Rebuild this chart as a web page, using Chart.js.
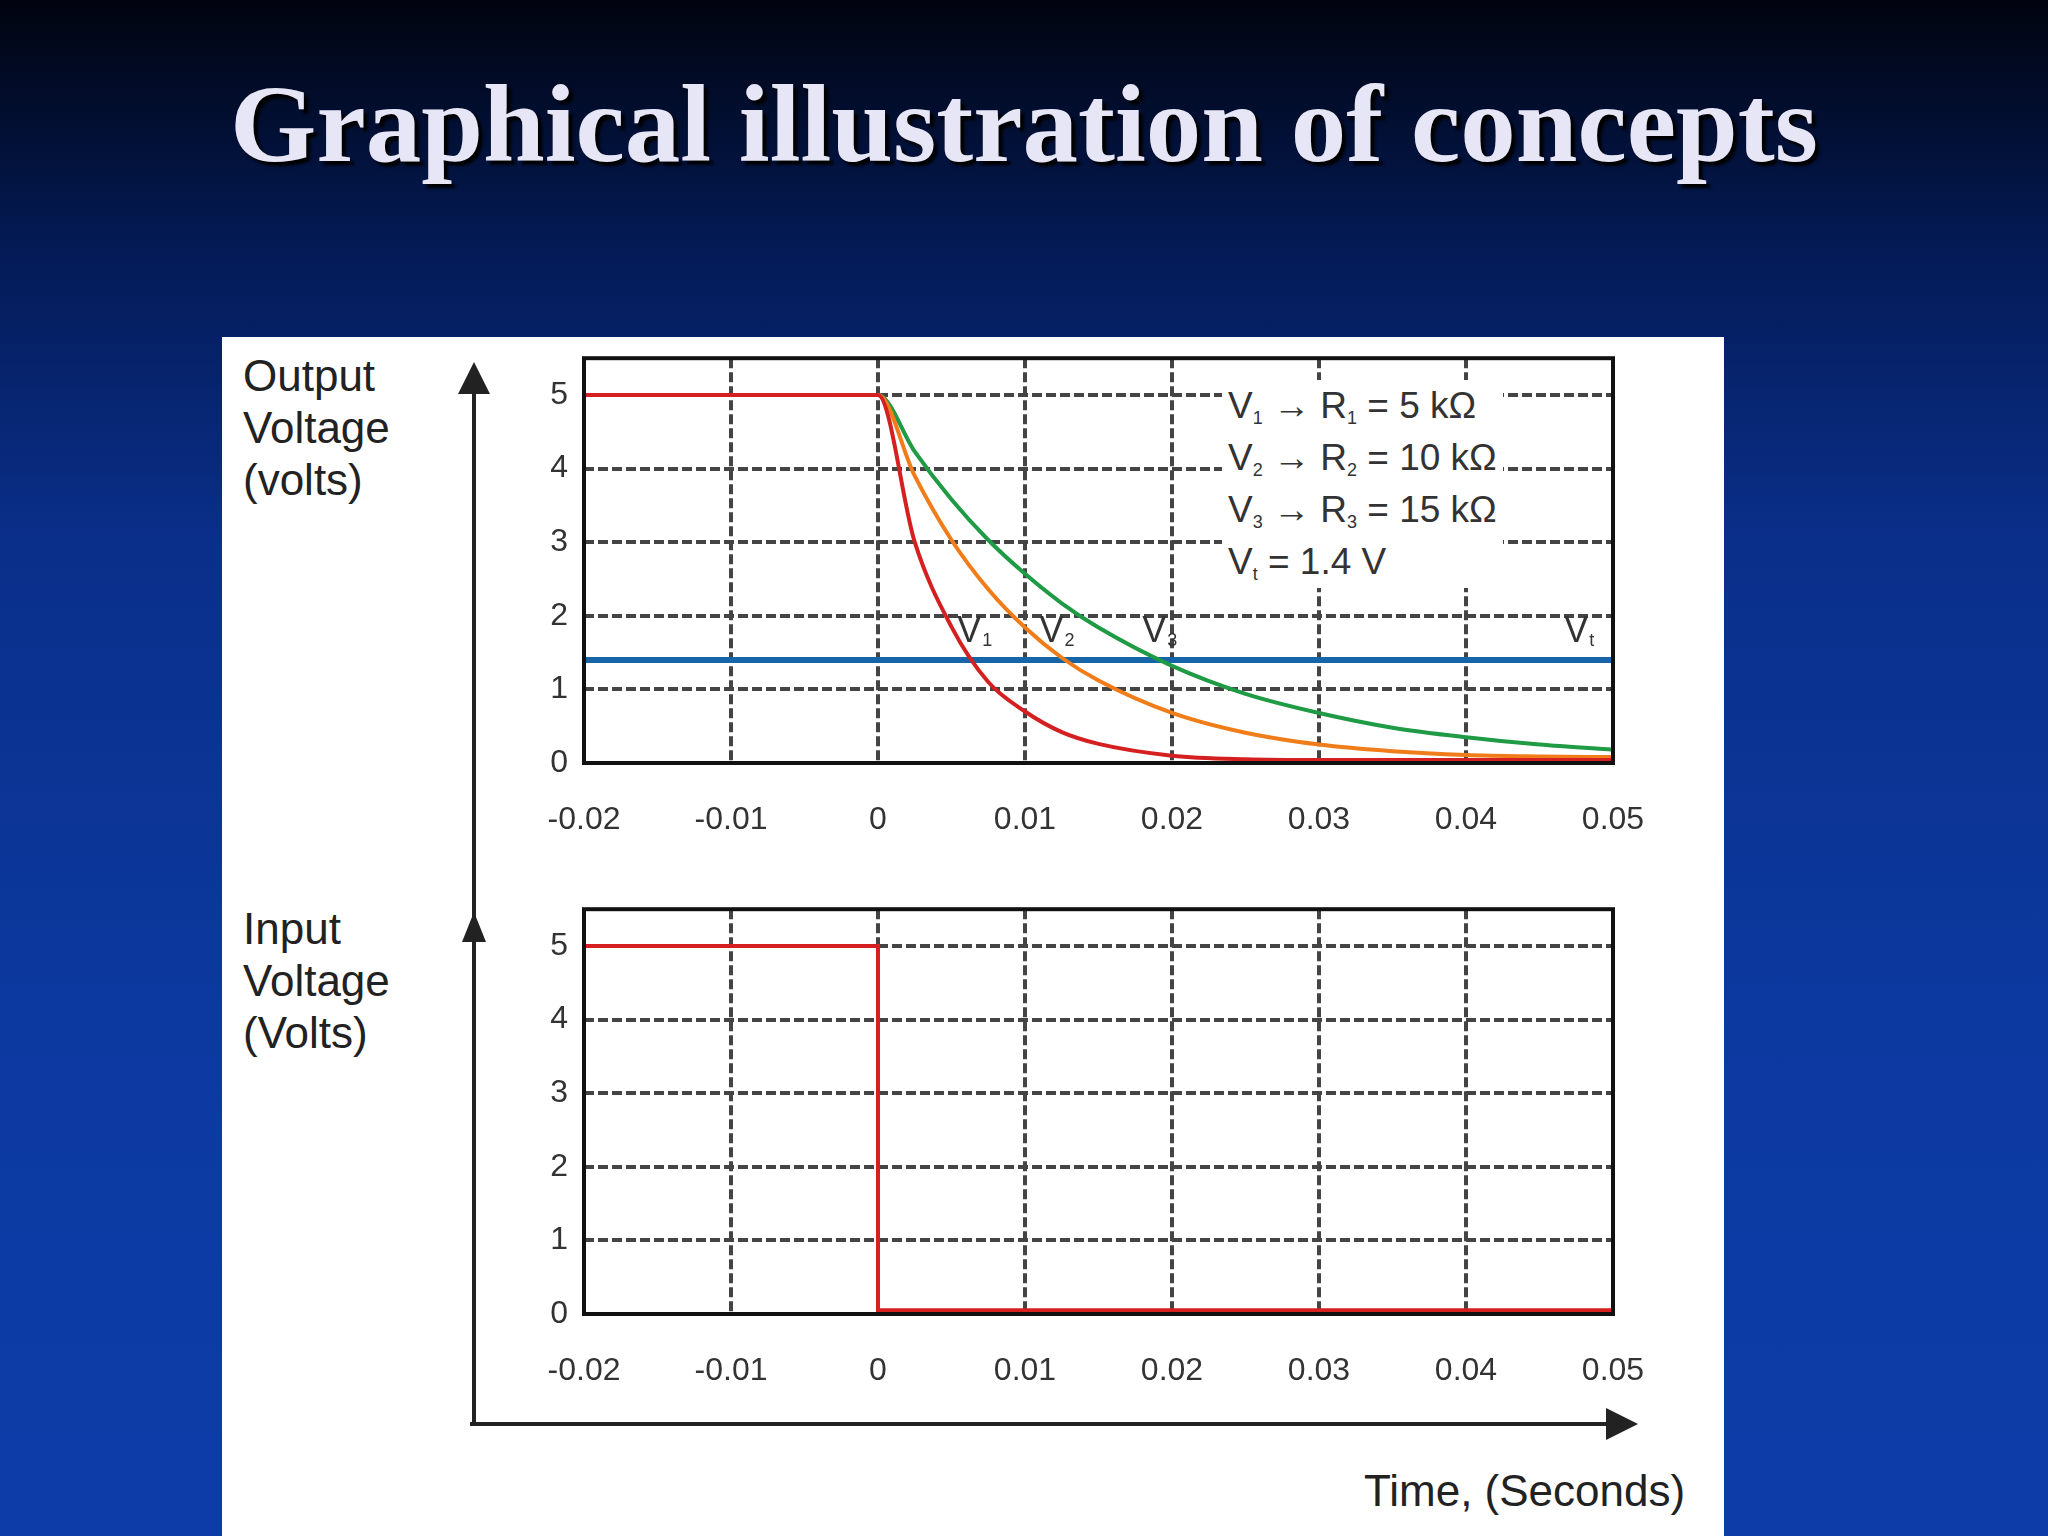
<!DOCTYPE html>
<html><head><meta charset="utf-8">
<script src="https://cdn.jsdelivr.net/npm/chart.js@4/dist/chart.umd.min.js"></script>
<style>
html,body{margin:0;padding:0;width:2048px;height:1536px;overflow:hidden;}
body{background:linear-gradient(180deg,#01040f 0%,#031a55 16%,#0a2f8a 35%,#0c3aa2 70%,#0d3ca8 100%);position:relative;font-family:"Liberation Sans",Arial,sans-serif;}
#title{position:absolute;left:0;width:2048px;top:60px;text-align:center;font-family:"Liberation Serif","DejaVu Serif",serif;font-weight:bold;font-size:111px;color:#e6e6f6;text-shadow:4px 4px 3px #000;}
#panel{position:absolute;left:222px;top:337px;width:1502px;height:1199px;background:#fff;}
.lbl{position:absolute;font-size:44px;color:#222;line-height:52px;}
.leg{position:absolute;left:1222px;top:380px;background:#fff;font-size:37px;color:#333;line-height:52px;padding:0 6px;}
.leg sub{font-size:18px;line-height:0;vertical-align:-6px;}
canvas{position:absolute;}
svg{position:absolute;left:0;top:0;}
</style></head><body>
<div id="title">Graphical illustration of concepts</div>
<div id="panel"></div>
<svg width="2048" height="1536">
<defs><marker id="ah" markerWidth="8" markerHeight="8" refX="6" refY="4" orient="auto" markerUnits="strokeWidth"><path d="M0,0 L8,4 L0,8 Z" fill="#222"/></marker></defs>
<line x1="474" y1="1424" x2="474" y2="370" stroke="#222" stroke-width="4" marker-end="url(#ah)"/>
<path d="M462,942 L474,912 L486,942 Z" fill="#222"/>
<line x1="470" y1="1424" x2="1630" y2="1424" stroke="#222" stroke-width="4" marker-end="url(#ah)"/>
</svg>
<div class="lbl" style="left:243px;top:350px">Output<br>Voltage<br>(volts)</div>
<div class="lbl" style="left:243px;top:903px">Input<br>Voltage<br>(Volts)</div>
<div class="lbl" style="left:1364px;top:1465px">Time, (Seconds)</div>
<canvas id="c1" width="1240" height="520" style="left:470px;top:323px;width:1240px;height:520px"></canvas>
<canvas id="c2" width="1240" height="520" style="left:470px;top:874px;width:1240px;height:520px"></canvas>
<div class="leg">V<sub>1</sub> → R<sub>1</sub> = 5 kΩ<br>V<sub>2</sub> → R<sub>2</sub> = 10 kΩ<br>V<sub>3</sub> → R<sub>3</sub> = 15 kΩ<br>V<sub>t</sub> = 1.4 V</div>
<script>
const xTicks=[-0.02,-0.01,0,0.01,0.02,0.03,0.04,0.05];
const yTicks=[0,1,2,3,4,5];
const tOut=[-0.02,0,0.0025,0.005,0.0075,0.01,0.0125,0.015,0.02,0.025,0.03,0.035,0.04,0.045,0.05];
const v1=[5,5,3.0,1.85,1.1,0.7,0.42,0.26,0.1,0.05,0.04,0.04,0.04,0.04,0.04];
const v2=[5,5,3.9,3.03,2.36,1.84,1.43,1.12,0.68,0.41,0.25,0.16,0.11,0.09,0.08];
const v3=[5,5,4.23,3.58,3.03,2.57,2.17,1.84,1.32,0.94,0.68,0.48,0.35,0.25,0.18];
const vt=1.4;
const tIn=[-0.02,0,0,0.05];
const vIn=[5,5,0.05,0.05];
const curveLabels=[["V1",0.0062],["V2",0.0118],["V3",0.0188],["Vt",0.0475]];

function pts(xs,ys){return xs.map((x,i)=>({x:x,y:ys[i]}));}
const frame={id:'frame',afterDraw(c){const a=c.chartArea,g=c.ctx;g.save();g.strokeStyle='#111';g.lineWidth=4;g.strokeRect(a.left,a.top,a.right-a.left,a.bottom-a.top);g.restore();}};
const labelsPlug={id:'lbls',afterDatasetsDraw(c,args,o){if(!o.on)return;const g=c.ctx,xs=c.scales.x,ys=c.scales.y;g.save();g.fillStyle='#333';g.textBaseline='alphabetic';
curveLabels.forEach(([s,x])=>{const px=xs.getPixelForValue(x),py=ys.getPixelForValue(1.65);g.font='36px "Liberation Sans"';g.fillText('V',px-12,py);g.font='18px "Liberation Sans"';g.fillText(s[1],px+13,py+4);});g.restore();}};
function opts(lbl){return{responsive:false,animation:false,layout:{padding:{top:0,right:97,left:0,bottom:0}},
plugins:{legend:{display:false},tooltip:{enabled:false},lbls:{on:lbl}},
elements:{point:{radius:0}},
scales:{
x:{type:'linear',min:-0.02,max:0.05,afterBuildTicks(a){a.ticks=xTicks.map(v=>({value:v}));},afterFit(a){a.height=80;},
 ticks:{padding:38,color:'#333',font:{size:32,family:'Liberation Sans'},callback:v=>v===0?'0':String(v)},
 grid:{color:'#444',lineWidth:4,drawTicks:false},border:{display:false,dash:[10,4]}},
y:{type:'linear',min:0,max:5.5,afterBuildTicks(a){a.ticks=yTicks.map(v=>({value:v}));},afterFit(a){a.width=114;},
 ticks:{padding:16,color:'#333',font:{size:32,family:'Liberation Sans'}},
 grid:{color:'#444',lineWidth:4,drawTicks:false},border:{display:false,dash:[10,4]}}}};}
new Chart(document.getElementById('c1'),{type:'line',data:{datasets:[
{data:pts(tOut,v1),borderColor:'#d42020',borderWidth:4,cubicInterpolationMode:'monotone'},
{data:pts(tOut,v2),borderColor:'#f07d1a',borderWidth:4,cubicInterpolationMode:'monotone'},
{data:pts(tOut,v3),borderColor:'#1f9a45',borderWidth:4,cubicInterpolationMode:'monotone'},
{data:[{x:-0.02,y:vt},{x:0.05,y:vt}],borderColor:'#1565a8',borderWidth:6}
]},options:opts(true),plugins:[frame,labelsPlug]});
new Chart(document.getElementById('c2'),{type:'line',data:{datasets:[
{data:pts(tIn,vIn),borderColor:'#d42020',borderWidth:4}
]},options:opts(false),plugins:[frame,labelsPlug]});
</script></body></html>
